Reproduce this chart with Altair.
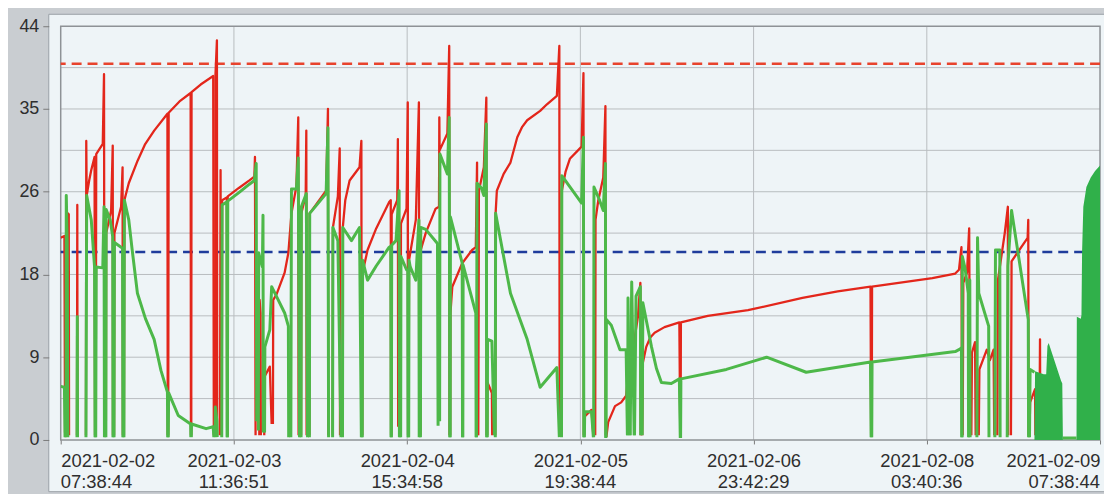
import json
import altair as alt
import pandas as pd

# ---------------- data (hours since 2021-02-02 07:38:44, value) ----------------
X_TICKS = [0, 28, 56, 84, 112, 140, 168]
X_DATES = ["2021-02-02", "2021-02-03", "2021-02-04", "2021-02-05", "2021-02-06",
           "2021-02-08", "2021-02-09"]
X_TIMES = ["07:38:44", "11:36:51", "15:34:58", "19:38:44", "23:42:29", "03:40:36",
           "07:38:44"]
Y_TICKS = [0, 8.8, 17.6, 26.4, 35.2, 44]
Y_GRID = [4.4, 8.8, 13.2, 17.6, 22.0, 26.4, 30.8, 35.2, 39.6]
X_GRID = [28, 56, 84, 112, 140]
UPPER_LIMIT = 40
LOWER_LIMIT = 20

RED = [
    (0.0, 21.5), (0.6, 21.7), (0.7, 0.8), None,
    (1.1, 0.5), (1.15, 24.1), (1.3, 24.0), (1.35, 0.5), None,
    (2.63, 0.5), (2.68, 25.0), (2.72, 0.5), None,
    (4.08, 0.5), (4.13, 31.8), (4.2, 26.0), (4.6, 27.6), (4.94, 28.7), (5.47, 30.1), (5.55, 0.5), None,
    (5.66, 0.5), (5.74, 30.4), (6.8, 31.5), (7.0, 38.9), (7.07, 0.5), None,
    (7.3, 0.5), (7.35, 22.0), (8.15, 24.4), (8.41, 31.3), (8.45, 0.5), None,
    (8.62, 0.5), (8.68, 22.0), (9.76, 24.8), (10.0, 29.0), (10.05, 0.5), None,
    (10.22, 0.5), (10.29, 25.5), (11.0, 27.3), (12.43, 29.7), (13.6, 31.4), (15.11, 32.9),
    (17.25, 34.7), (17.3, 0.5), None,
    (17.38, 0.5), (17.45, 34.8), (19.2, 36.0), (21.0, 36.9), (21.05, 0.5), None,
    (21.1, 0.5), (21.15, 37.0), (22.62, 37.8), (24.65, 38.7), (24.75, 0.5), None,
    (24.95, 0.5), (25.0, 38.6), (25.25, 42.5), (25.3, 0.5), None,
    (25.75, 0.5), (25.84, 28.7), (25.9, 0.5), None,
    (26.03, 0.5), (26.09, 25.5), (26.85, 25.8), (26.9, 0.5), None,
    (26.95, 0.5), (27.0, 25.9), (28.8, 26.8), (30.5, 27.6), (31.3, 28.0), (31.4, 30.1), (31.5, 0.5), None,
    (32.1, 0.5), (32.15, 14.9), (32.3, 13.5), (32.35, 0.5), None,
    (32.9, 0.5), (33.0, 6.8), (33.8, 7.8), (34.1, 1.7), None,
    (34.3, 1.7), (34.35, 14.9), (34.9, 15.5), (36.2, 17.8), (36.8, 19.9), (37.3, 24.1), (38.1, 27.0),
    (38.4, 34.3), (38.45, 0.5), None,
    (38.85, 0.5), (38.9, 24.1), (39.6, 26.0), (39.7, 32.9), (39.75, 0.5), None,
    (40.2, 0.5), (40.25, 24.1), (42.9, 26.5), (43.2, 35.2), (43.25, 0.5), None,
    (43.95, 0.5), (44.0, 22.6), (44.8, 25.9), (45.1, 31.0), (45.15, 0.5), None,
    (45.55, 0.5), (45.6, 22.6), (46.0, 25.5), (46.7, 27.6), (48.3, 29.0), (48.6, 31.8), (48.65, 0.5), None,
    (48.75, 0.5), (48.8, 17.8), (49.6, 20.2), (51.0, 22.5), (53.1, 25.3), (53.35, 25.5), (53.4, 0.5), None,
    (53.45, 0.5), (53.5, 24.0), (54.4, 25.5), (54.5, 32.0), (54.55, 1.4), None,
    (54.95, 0.5), (55.0, 23.0), (55.9, 24.6), (56.1, 35.9), (56.15, 0.5), None,
    (56.25, 0.5), (56.3, 19.1), (57.4, 23.4), (57.9, 35.9), (57.95, 0.5), None,
    (58.15, 0.5), (58.2, 20.2), (59.0, 22.0), (60.6, 24.6), (61.15, 24.8), (61.2, 34.3), (61.25, 30.8),
    (62.5, 32.6), (62.8, 41.9), (62.85, 0.5), None,
    (62.95, 0.5), (63.0, 13.5), (63.3, 16.3), (64.9, 18.8), (66.5, 20.2), (67.1, 20.5), (67.3, 29.5),
    (67.35, 0.5), None,
    (67.5, 0.5), (67.6, 26.5), (68.4, 29.0), (68.8, 36.4), (68.85, 0.5), None,
    (68.95, 0.5), (69.0, 6.1), (69.7, 5.0), (69.75, 0.5), None,
    (70.25, 0.5), (70.3, 24.1), (70.5, 26.5), (71.6, 28.3), (72.7, 29.5), (73.8, 32.2), (74.6, 33.3),
    (75.4, 34.0), (77.5, 35.0), (78.6, 35.7), (80.2, 36.6), (80.6, 41.9), (80.65, 0.5), None,
    (80.95, 0.5), (81.0, 26.5), (81.6, 28.5), (82.3, 29.9), (84.2, 31.2), (84.5, 39.0), (84.55, 0.5), None,
    (84.65, 0.5), (84.7, 2.5), (85.8, 3.2), (86.1, 0.5), None,
    (86.4, 0.5), (86.45, 23.4), (86.9, 25.5), (87.7, 27.9), (88.05, 35.5), (88.1, 0.5), None,
    (88.2, 0.3), (88.5, 1.9), (89.6, 3.6), (90.6, 4.0), (91.4, 4.7), (92.0, 8.6), (92.7, 10.5),
    (93.3, 13.1), (93.7, 16.7), (93.75, 0.5), None,
    (94.0, 0.5), (94.1, 8.2), (94.65, 9.9), (95.3, 10.9), (96.0, 11.4), (97.6, 12.0), (100.0, 12.5),
    (100.15, 0.3), None,
    (100.2, 0.3), (100.25, 12.5), (104.6, 13.2), (111.1, 13.8), (119.9, 15.1), (125.6, 15.8),
    (130.9, 16.3), (131.0, 0.5), None,
    (131.1, 0.5), (131.15, 16.3), (140.9, 17.2), (144.6, 17.7), (145.2, 18.1), (145.6, 20.5), (145.7, 0.5), None,
    (145.8, 0.5), (145.9, 16.7), (146.5, 17.8), (146.85, 22.5), (147.0, 0.5), None,
    (147.2, 0.5), (147.3, 9.3), (147.8, 10.4), (147.9, 0.5), None,
    (148.4, 0.5), (148.5, 7.5), (149.7, 9.6), (150.2, 8.5), (150.8, 9.6), (150.9, 0.5), None,
    (151.4, 0.5), (151.5, 17.0), (152.6, 22.0), (153.1, 24.8), (153.15, 0.5), None,
    (153.6, 0.5), (153.7, 19.0), (156.3, 21.5), (156.4, 23.4), (156.45, 0.5), None,
    (156.6, 0.5), (156.7, 4.0), (157.5, 5.4), (157.55, 0.5), None,
    (158.2, 0.5), (158.3, 10.7), (158.35, 0.5), None,
    (158.7, 0.5), (158.8, 3.5), (158.9, 0.5),
]

GREEN = [
    (0.0, 5.7), (0.6, 5.6), (0.7, 0.3), None,
    (0.85, 0.3), (0.9, 26.0), (1.05, 21.0), (1.15, 0.3), None,
    (2.63, 0.3), (2.68, 13.1), (2.72, 0.3), None,
    (4.08, 0.3), (4.2, 26.0), (4.94, 23.4), (5.47, 18.4), (5.55, 0.3), None,
    (5.66, 0.3), (5.74, 18.4), (6.8, 18.3), (7.0, 24.8), (7.07, 0.3), None,
    (7.3, 0.3), (7.35, 24.5), (8.0, 23.4), (8.41, 21.6), (8.45, 0.3), None,
    (8.62, 0.3), (8.68, 21.0), (9.76, 20.5), (10.0, 20.4), (10.05, 0.3), None,
    (10.22, 0.3), (10.29, 25.5), (11.0, 23.4), (11.5, 20.5), (12.4, 15.6), (13.7, 12.9), (15.1, 10.7),
    (16.2, 7.4), (17.25, 5.1), (17.3, 0.3), None,
    (17.38, 0.3), (17.45, 5.0), (19.0, 2.6), (21.0, 1.7), (21.05, 0.3), None,
    (21.1, 0.3), (21.15, 1.7), (23.5, 1.2), (24.65, 1.4), (24.75, 0.3), None,
    (24.95, 0.3), (25.0, 3.5), (25.25, 2.0), (25.3, 0.3), None,
    (26.03, 0.3), (26.09, 25.0), (26.85, 25.3), (26.9, 0.3), None,
    (26.95, 0.3), (27.0, 25.4), (28.8, 26.3), (30.5, 27.2), (31.3, 27.6), (31.6, 29.4), (31.68, 2.0), None,
    (31.95, 1.0), (32.0, 19.9), (32.6, 18.4), (32.7, 23.9), (32.75, 0.8), None,
    (32.95, 0.8), (33.0, 9.9), (33.8, 11.7), (34.1, 16.3), (36.2, 13.5), (36.8, 12.1), (36.85, 0.3), None,
    (37.2, 0.3), (37.3, 26.7), (38.1, 26.7), (38.4, 30.0), (38.6, 0.3), None,
    (38.85, 0.3), (38.9, 24.8), (39.7, 26.2), (39.9, 0.3), None,
    (40.2, 0.3), (40.25, 24.1), (42.9, 26.2), (43.2, 33.2), (43.3, 0.3), None,
    (43.95, 0.3), (44.0, 22.6), (44.8, 21.2), (45.3, 0.3), None,
    (45.55, 0.3), (45.6, 22.6), (47.0, 21.2), (48.3, 22.6), (48.6, 0.3), None,
    (48.75, 0.3), (48.8, 19.1), (49.6, 17.0), (51.0, 18.5), (53.1, 20.5), (53.35, 20.6), (53.4, 0.3), None,
    (53.45, 0.3), (53.5, 20.7), (54.2, 21.2), (54.7, 26.5), (54.75, 0.3), None,
    (54.95, 0.3), (55.0, 19.5), (55.9, 18.1), (56.1, 18.0), (56.15, 0.3), None,
    (56.25, 0.3), (56.3, 19.1), (56.5, 18.4), (57.4, 17.0), (57.9, 23.4), (57.95, 0.3), None,
    (58.15, 0.3), (58.2, 22.6), (59.0, 22.4), (60.9, 20.9), (61.0, 1.5), None,
    (61.25, 2.0), (61.3, 30.4), (62.5, 28.3), (62.8, 34.3), (62.9, 0.3), None,
    (62.95, 0.3), (63.0, 23.7), (64.9, 18.8), (64.95, 0.3), None,
    (65.0, 0.3), (65.05, 18.6), (67.1, 13.5), (67.15, 0.3), None,
    (67.2, 0.3), (67.3, 27.3), (68.0, 26.8), (68.4, 26.0), (68.8, 33.6), (68.85, 0.3), None,
    (68.95, 0.3), (69.0, 10.7), (69.7, 10.5), (70.1, 0.5), None,
    (70.25, 0.3), (70.3, 24.1), (72.7, 15.6), (75.4, 10.7), (77.5, 5.6), (80.2, 7.7), (80.6, 0.3), None,
    (80.95, 0.3), (81.0, 28.1), (84.2, 25.2), (84.5, 32.2), (84.55, 0.3), None,
    (84.65, 0.3), (84.7, 3.0), (85.8, 3.0), (86.1, 0.3), None,
    (86.15, 0.3), (86.2, 26.9), (87.1, 25.5), (87.7, 24.4), (88.05, 29.4), (88.1, 0.2), None,
    (88.15, 0.3), (88.2, 12.8), (89.0, 12.2), (90.4, 9.6), (91.4, 9.6), (91.6, 0.5), None,
    (91.65, 0.5), (91.7, 15.1), (92.0, 0.5), None,
    (92.05, 0.5), (92.3, 16.8), (92.7, 0.5), None,
    (92.75, 0.5), (93.0, 15.3), (93.7, 16.3), (93.75, 0.5), None,
    (94.0, 0.5), (94.1, 14.6), (95.5, 9.9), (96.3, 7.6), (97.1, 6.1), (98.7, 6.0), (100.0, 6.5),
    (100.15, 0.2), None,
    (100.2, 0.2), (100.25, 6.5), (107.6, 7.5), (114.1, 8.8), (120.5, 7.2), (130.9, 8.3), (131.0, 0.3), None,
    (131.1, 0.3), (131.15, 8.3), (144.6, 9.4), (145.2, 9.6), (145.6, 9.8), (145.65, 0.3), None,
    (145.7, 0.3), (145.75, 19.5), (146.2, 18.2), (146.7, 15.6), (146.75, 0.3), None,
    (146.9, 0.3), (146.95, 17.0), (147.0, 0.3), None,
    (148.1, 0.3), (148.2, 21.5), (148.4, 15.6), (150.0, 12.1), (150.05, 0.3), None,
    (151.0, 0.3), (151.1, 20.2), (151.8, 20.2), (151.85, 0.3), None,
    (153.0, 0.3), (153.1, 18.5), (153.7, 24.4), (156.4, 12.8), (156.45, 0.3), None,
    (156.6, 0.3), (156.7, 7.5), (157.4, 7.2), None,
    (162.0, 0.2), (164.2, 0.2),
]

# dense (solid-looking) green bursts, drawn as filled envelopes
GREEN_FILL = [
    (157.4, 0.0), (157.5, 7.3), (158.9, 7.0), (159.3, 7.0), (159.5, 10.0), (159.7, 10.3),
    (161.7, 6.3), (161.9, 6.0), (162.0, 0.0), None,
    (164.2, 0.0), (164.25, 13.1), (164.9, 12.9), (165.0, 13.3), (165.1, 20.0), (165.3, 24.8),
    (165.8, 26.9), (166.5, 27.9), (167.2, 28.6), (168.0, 29.2),
]


def to_frame(points):
    rows, seg, i = [], 0, 0
    for p in points:
        if p is None:
            seg += 1
            continue
        rows.append({"t": p[0], "v": p[1], "seg": seg, "i": i})
        i += 1
    return pd.DataFrame(rows)


red_df = to_frame(RED)
green_df = to_frame(GREEN)
fill_df = to_frame(GREEN_FILL)
times_df = pd.DataFrame({"t": X_TICKS, "label": X_TIMES, "k": range(len(X_TICKS))})

W, H = 1045, 416
FONT = "Liberation Sans"
TXT = "#2e2e2e"
FS = 18.5

xscale = alt.Scale(domain=[0, 168], nice=False, zero=False)
yscale = alt.Scale(domain=[0, 44], nice=False)

label_expr = json.dumps(X_DATES) + "[indexof(" + json.dumps(X_TICKS) + ", datum.value)]"

xaxis = alt.Axis(values=X_TICKS, labelExpr=label_expr, grid=False, domain=False,
                 ticks=True, tickSize=4, tickColor="#7a7a7a", labelFont=FONT,
                 labelFontSize=FS, labelColor=TXT, labelPadding=8,
                 labelFlush=True, labelOverlap=False, title=None, zindex=1)
yaxis = alt.Axis(values=Y_TICKS, labelExpr="round(datum.value)", grid=False,
                 domain=False, ticks=True, tickSize=6, tickColor="#7a7a7a",
                 offset=12, labelFont=FONT, labelFontSize=18, labelColor=TXT,
                 labelPadding=4, title=None, zindex=1)

X = lambda: alt.X("t:Q", scale=xscale, axis=xaxis)
Y = lambda: alt.Y("v:Q", scale=yscale, axis=yaxis, stack=None)

one = pd.DataFrame({"a": [0]})

panel = alt.Chart(one).mark_rect(fill="#eef4f7", stroke="#9aa0a6", strokeWidth=1,
                                 clip=False).encode(
    x=alt.value(-12), x2=alt.value(W + 30), y=alt.value(-12), y2=alt.value(H + 52))

ygrid = alt.Chart(pd.DataFrame({"v": Y_GRID})).mark_rule(
    color="#b8bcc0", strokeWidth=1).encode(y=Y())
xgrid = alt.Chart(pd.DataFrame({"t": X_GRID})).mark_rule(
    color="#b8bcc0", strokeWidth=1).encode(x=X())

frame = alt.Chart(one).mark_rect(fillOpacity=0, stroke="#8e9296",
                                 strokeWidth=1.5).encode(
    x=alt.value(0), x2=alt.value(W), y=alt.value(0), y2=alt.value(H))

upper = alt.Chart(pd.DataFrame({"v": [UPPER_LIMIT]})).mark_rule(
    color="#e8432d", strokeWidth=2.5, strokeDash=[10, 6]).encode(y=Y())
lower = alt.Chart(pd.DataFrame({"v": [LOWER_LIMIT]})).mark_rule(
    color="#1f3c9c", strokeWidth=2.5, strokeDash=[10, 6]).encode(y=Y())

red_line = alt.Chart(red_df).mark_line(color="#e3261b", strokeWidth=2.3,
                                       strokeJoin="round", clip=True).encode(
    x=X(), y=Y(), detail="seg:N", order="i:Q")

green_fill = alt.Chart(fill_df).mark_area(color="#30b04a", opacity=1, clip=True).encode(
    x=X(), y=Y(), detail="seg:N")

green_line = alt.Chart(green_df).mark_line(color="#4db849", strokeWidth=3,
                                           strokeJoin="round", clip=True).encode(
    x=X(), y=Y(), detail="seg:N", order="i:Q")

# second line of the x tick labels (time of day), flush at both ends like the first line
last = len(X_TICKS) - 1
time_layers = []
for align, test in [("left", "datum.k == 0"),
                    ("center", f"datum.k > 0 && datum.k < {last}"),
                    ("right", f"datum.k == {last}")]:
    time_layers.append(
        alt.Chart(times_df).transform_filter(test).mark_text(
            align=align, baseline="middle", font=FONT, fontSize=FS, color=TXT,
            clip=False).encode(x=X(), y=alt.value(H + 42), text="label:N"))

chart = alt.layer(
    panel, ygrid, xgrid, frame, upper, lower, red_line, green_fill, green_line,
    *time_layers
).properties(
    width=W, height=H,
    autosize=alt.AutoSizeParams(type="none"),
    padding={"left": 53, "top": 17, "right": 4, "bottom": 53},
    background="#c9cdd1",
).configure_view(stroke=None)

chart.save("out.html", embed_options={"renderer": "svg", "actions": False})
